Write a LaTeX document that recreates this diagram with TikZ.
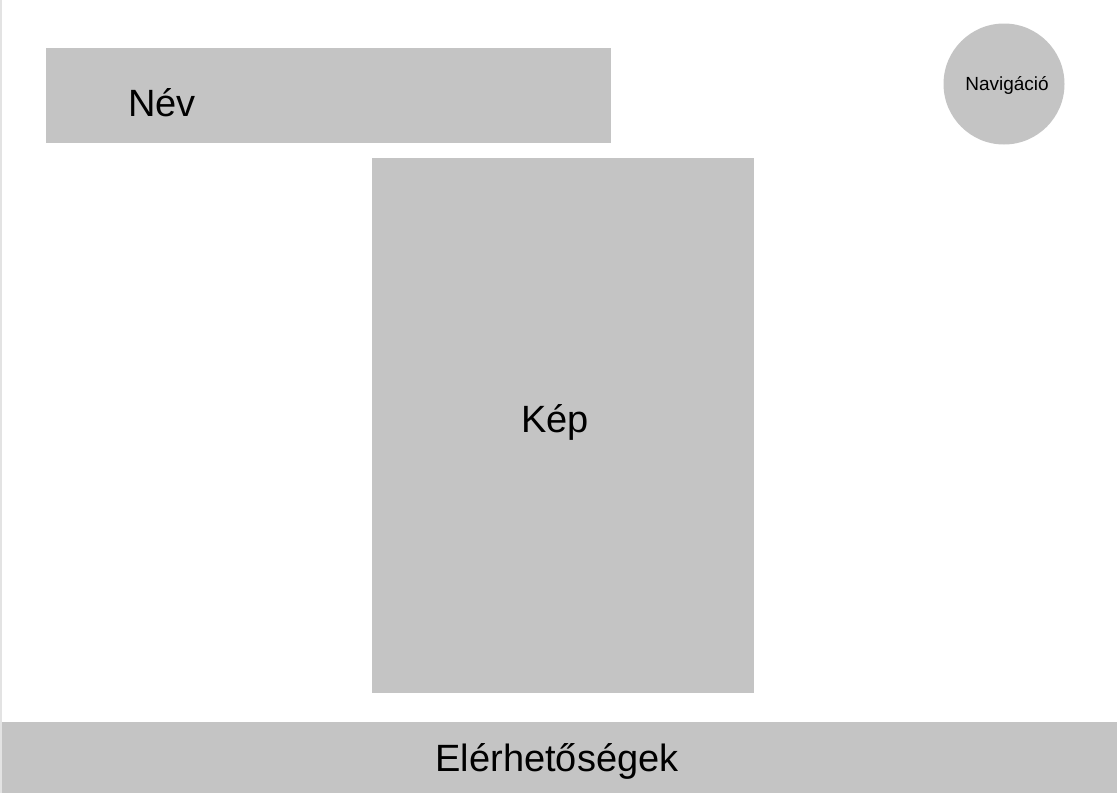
\documentclass[tikz,border=0pt]{standalone}
\usepackage{fontspec}
\setmainfont{Liberation Sans}
\usepackage{xcolor}
\usetikzlibrary{positioning,calc}
\definecolor{boxgrey}{HTML}{C4C4C4}
\definecolor{edgegrey}{HTML}{E3E3E3}

\begin{document}
\begin{tikzpicture}[x=1pt, y=-1pt, every node/.style={font=\fontsize{38}{41}\selectfont, inner sep=0pt}]
        \useasboundingbox (0,0) rectangle (1117,793);
        \fill[edgegrey] (0,0) rectangle (2,793);

        \node[fill=boxgrey, minimum width=565pt, minimum height=95pt, anchor=north west] (nev) at (46,48) {};
        \node[anchor=west] (nevtxt) at (128,103) {Név};

        \node[circle, fill=boxgrey, minimum size=121pt] (nav) at (1004,84) {};
        \node[font=\fontsize{19}{22}\selectfont] (navtxt) at (1007,85) {Navigáció};

        \node[fill=boxgrey, minimum width=382pt, minimum height=535pt, anchor=north west] (kep) at (372,158) {};
        \node (keptxt) at (555,422) {Kép};

        \node[fill=boxgrey, minimum width=1115pt, minimum height=71pt, anchor=north west] (kontakt) at (2,722) {};
        \node (kontakttxt) at (557,761) {Elérhetőségek};
    \end{tikzpicture}
\end{document}
